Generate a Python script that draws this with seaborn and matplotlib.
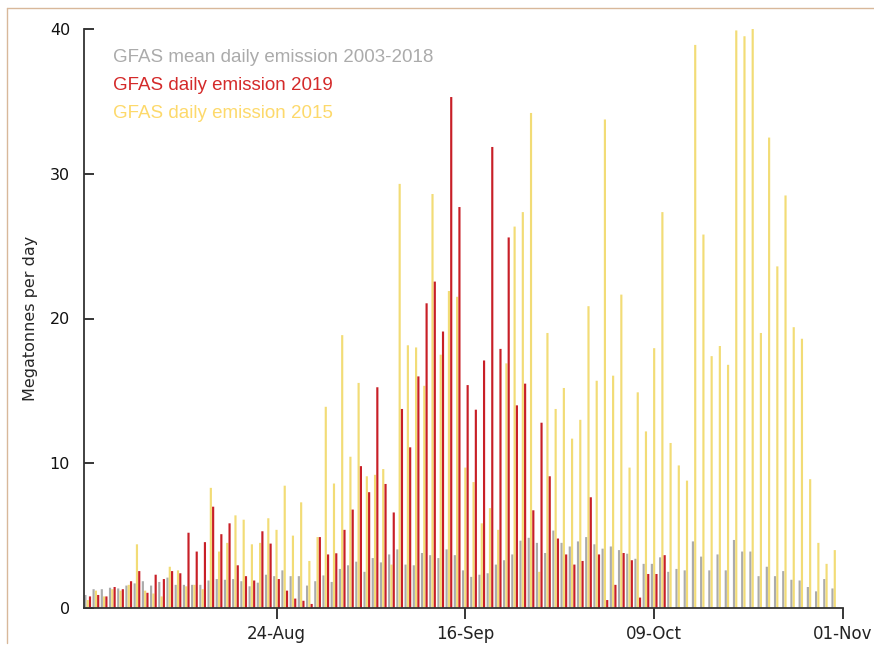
import numpy as np
import pandas as pd
import seaborn as sns
import matplotlib.pyplot as plt
from matplotlib.lines import Line2D

# daily values, 1 Aug - 31 Oct (Mt per day)
days = list(range(92))
tick_pos = [23, 46, 69, 92]
tick_labels = ['24-Aug', '16-Sep', '09-Oct', '01-Nov']

mean_0318 = [0.9, 1.3, 1.3, 1.4, 1.35, 1.55, 1.7, 1.85, 1.55, 1.8,
             2.1, 1.6, 1.6, 1.6, 1.6, 1.9, 2.0, 1.95, 2.0, 1.85,
             1.5, 1.75, 2.3, 2.2, 2.6, 2.2, 2.2, 1.55, 1.85, 2.25,
             1.8, 2.7, 2.95, 3.2, 2.5, 3.45, 3.15, 3.7, 4.05, 3.0,
             2.95, 3.8, 3.65, 3.45, 4.05, 3.65, 2.6, 2.15, 2.3, 2.4,
             3.0, 3.3, 3.7, 4.65, 4.85, 4.5, 3.8, 5.35, 4.5, 4.25,
             4.6, 4.9, 4.4, 4.1, 4.25, 4.0, 3.75, 3.4, 3.05, 3.05,
             3.5, 2.5, 2.7, 2.6, 4.6, 3.55, 2.6, 3.7, 2.6, 4.7,
             3.9, 3.9, 2.2, 2.85, 2.2, 2.55, 1.95, 1.9, 1.45, 1.15,
             2.0, 1.35]

em_2015 = [0.55, 1.2, 0.8, 1.3, 1.2, 1.6, 4.4, 1.2, 1.0, 0.8,
           2.85, 2.6, 1.5, 1.6, 1.3, 8.3, 3.9, 4.5, 6.4, 6.1,
           4.4, 4.5, 6.2, 5.4, 8.45, 5.0, 7.3, 3.25, 4.9, 13.9,
           8.6, 18.85, 10.45, 15.55, 9.1, 9.2, 9.6, 3.0, 29.3, 18.15,
           18.0, 15.35, 28.6, 17.5, 21.9, 21.5, 9.7, 8.7, 5.85, 6.9,
           5.4, 16.9, 26.35, 27.35, 34.2, 2.5, 19.0, 13.75, 15.2, 11.7,
           13.0, 20.85, 15.7, 33.75, 16.05, 21.65, 9.7, 14.9, 12.2, 17.95,
           27.35, 11.4, 9.85, 8.8, 38.9, 25.8, 17.4, 18.1, 16.8, 39.9,
           39.5, 40.0, 19.0, 32.5, 23.6, 28.5, 19.4, 18.6, 8.9, 4.5,
           3.05, 4.0]

em_2019 = [0.8, 0.9, 0.8, 1.45, 1.3, 1.85, 2.55, 1.05, 2.3, 2.0,
           2.55, 2.4, 5.2, 3.9, 4.55, 7.0, 5.1, 5.85, 2.95, 2.2,
           1.9, 5.3, 4.45, 2.0, 1.2, 0.65, 0.5, 0.28, 4.9, 3.7,
           3.78, 5.4, 6.8, 9.8, 8.0, 15.25, 8.57, 6.6, 13.75, 11.1,
           16.0, 21.05, 22.55, 19.1, 35.3, 27.7, 15.4, 13.7, 17.1, 31.85,
           17.9, 25.6, 14.0, 15.5, 6.75, 12.8, 9.1, 4.8, 3.7, 3.0,
           3.25, 7.65, 3.7, 0.55, 1.6, 3.8, 3.3, 0.72, 2.35, 2.35,
           3.65, np.nan, np.nan, np.nan, np.nan, np.nan, np.nan, np.nan, np.nan, np.nan,
           np.nan, np.nan, np.nan, np.nan, np.nan, np.nan, np.nan, np.nan, np.nan, np.nan,
           np.nan, np.nan]

names = ['GFAS mean daily emission 2003-2018', 'GFAS daily emission 2015',
         'GFAS daily emission 2019']
bar_colors = ['#ababab', '#f2dc76', '#c81f27']

df = pd.DataFrame({'day': days, names[0]: mean_0318, names[1]: em_2015, names[2]: em_2019})
df = df.melt(id_vars='day', var_name='series', value_name='Mt').dropna()

sns.set_style('ticks')
plt.rcParams['font.family'] = ['DejaVu Sans']

fig = plt.figure(figsize=(8.74, 6.63), dpi=100)
ax = fig.add_axes([84/874, 1-608/663, (843-84)/874, (608-29)/663])

sns.barplot(data=df, x='day', y='Mt', hue='series', hue_order=names, palette=bar_colors,
            width=0.84, gap=0.06, errorbar=None, saturation=1, linewidth=0, legend=False, ax=ax)
for p in ax.patches:
    p.set_snap(False)

ax.set_xticks(tick_pos)
ax.set_xticklabels(tick_labels, fontsize=12, color='#222222')
ax.set_xlim(-0.45, 92)
ax.set_ylim(0, 40)
ax.set_yticks([0, 10, 20, 30, 40])
ax.set_yticklabels(['0', '10', '20', '30', '40'], fontsize=11.5, color='#111111')
ax.tick_params(axis='y', direction='in', length=7, width=1.3, pad=10)
ax.tick_params(axis='x', direction='out', length=8, width=1.3, pad=4)
ax.set_xlabel('')
ax.set_ylabel('Megatonnes per day', fontsize=11.5)
ax.yaxis.set_label_coords(-0.06, 0.5)
sns.despine(ax=ax)
for s in ['left', 'bottom']:
    ax.spines[s].set_linewidth(1.3)
    ax.spines[s].set_color('#333333')

# text legend
leg_colors = ['#ababab', '#d42a2a', '#fdd96b']
leg_text = [names[0], names[2], names[1]]
for i, (t, c) in enumerate(zip(leg_text, leg_colors)):
    fig.text(113/874, 1 - (57 + 28.5*i)/663, t, color=c, fontsize=13.5,
             family=['Liberation Sans', 'DejaVu Sans'], va='center', ha='left')

# frame of the original image
fig.add_artist(Line2D([7/874, 1], [1-8/663, 1-8/663], color='#d8b89a', lw=1))
fig.add_artist(Line2D([7/874, 7/874], [0.03, 1-8/663], color='#d8b89a', lw=1))

fig.savefig('out.png', dpi=100)
